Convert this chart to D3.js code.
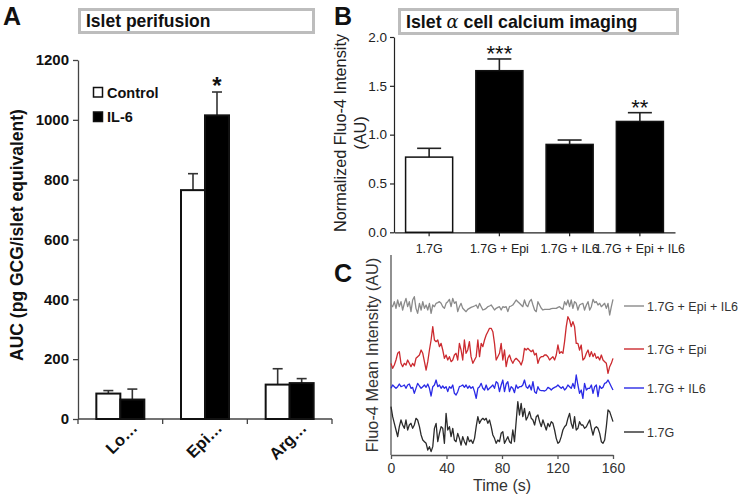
<!DOCTYPE html>
<html><head><meta charset="utf-8">
<script src="https://cdn.jsdelivr.net/npm/d3@7"></script>
<style>body{margin:0;background:#fff;} svg{display:block;font-family:"Liberation Sans",Arial,sans-serif;}</style>
</head><body><svg id="c" width="740" height="496"></svg>
<script>
// ---------- Panel A : islet perifusion ----------
const perifCategories = ["Lo…", "Epi…", "Arg…"];
const perifGroups = ["Control", "IL-6"];
const perifControl = [85, 765, 115];
const perifControlErr = [10, 55, 53];
const perifIL6 = [65, 1015, 120];
const perifIL6Err = [35, 78, 15];
const perifSig = ["", "*", ""];
const perifYTicks = [0, 200, 400, 600, 800, 1000, 1200];

// ---------- Panel B : alpha cell calcium imaging ----------
const caCategories = ["1.7G", "1.7G + Epi", "1.7G + IL6", "1.7G + Epi + IL6"];
const caValues = [0.77, 1.655, 0.90, 1.135];
const caErrors = [0.09, 0.12, 0.045, 0.09];
const caSig = ["", "***", "", "**"];
const caYTicks = [0, 0.5, 1.0, 1.5, 2.0];

// ---------- Panel C : Fluo-4 traces ----------
const traceTime = [
  0, 1.2, 2.4, 3.6, 4.8, 6.0, 7.2, 8.4, 9.6, 10.8,
  12.0, 13.2, 14.4, 15.6, 16.8, 18.0, 19.2, 20.5, 21.7, 22.9,
  24.1, 25.3, 26.5, 27.7, 28.9, 30.1, 31.3, 32.5, 33.7, 34.9,
  36.1, 37.3, 38.5, 39.7, 40.9, 42.1, 43.3, 44.5, 45.7, 46.9,
  48.1, 49.3, 50.5, 51.7, 52.9, 54.1, 55.3, 56.5, 57.7, 59.0,
  60.2, 61.4, 62.6, 63.8, 65.0, 66.2, 67.4, 68.6, 69.8, 71.0,
  72.2, 73.4, 74.6, 75.8, 77.0, 78.2, 79.4, 80.6, 81.8, 83.0,
  84.2, 85.4, 86.6, 87.8, 89.0, 90.2, 91.4, 92.6, 93.8, 95.0,
  96.2, 97.4, 98.6, 99.8, 101.1, 102.3, 103.5, 104.7, 105.9, 107.1,
  108.3, 109.5, 110.7, 111.9, 113.1, 114.3, 115.5, 116.7, 117.9, 119.1,
  120.3, 121.5, 122.7, 123.9, 125.1, 126.3, 127.5, 128.7, 129.9, 131.1,
  132.3, 133.5, 134.7, 135.9, 137.1, 138.3, 139.5, 140.8, 142.0, 143.2,
  144.4, 145.6, 146.8, 148.0, 149.2, 150.4, 151.6, 152.8, 154.0, 155.2,
  156.4, 157.6, 158.8, 160.0
];
const traceEpiIL6 = [
  465, 460, 475, 455, 480, 460, 475, 450, 470, 485,
  460, 475, 445, 480, 490, 455, 440, 470, 450, 475,
  455, 465, 450, 470, 440, 465, 460, 470, 472, 475,
  470, 460, 455, 470, 475, 482, 460, 485, 470, 475,
  445, 460, 470, 455, 450, 445, 452, 455, 458, 460,
  462, 465, 455, 470, 460, 450, 452, 455, 460, 462,
  465, 458, 450, 455, 458, 460, 450, 460, 458, 460,
  445, 460, 462, 465, 472, 480, 475, 470, 465, 460,
  480, 465, 460, 475, 482, 465, 450, 445, 475, 465,
  455, 450, 452, 452, 452, 452, 454, 455, 455, 455,
  458, 460, 455, 452, 475, 465, 480, 460, 480, 455,
  475, 470, 450, 465, 468, 470, 450, 465, 475, 450,
  460, 482, 472, 475, 465, 470, 460, 465, 470, 455,
  470, 435, 460, 482
];
const traceEpi = [
  290, 275, 285, 300, 320, 325, 290, 280, 290, 285,
  300, 290, 280, 290, 282, 305, 310, 315, 330, 320,
  295, 270, 295, 330, 360, 400, 360, 355, 360, 340,
  350, 330, 305, 315, 300, 310, 295, 300, 315, 320,
  300, 350, 330, 300, 360, 320, 330, 355, 310, 290,
  300, 310, 360, 310, 350, 340, 360, 375, 385, 395,
  395, 385, 350, 300, 310, 320, 350, 300, 330, 280,
  305, 315, 300, 290, 300, 305, 300, 295, 285, 300,
  335, 330, 335, 330, 325, 330, 315, 320, 290, 305,
  310, 310, 315, 315, 310, 300, 305, 310, 300, 315,
  345, 320, 325, 320, 355, 400, 430, 420, 400, 415,
  400, 350, 350, 330, 345, 300, 305, 320, 330, 310,
  325, 310, 320, 305, 310, 300, 315, 300, 295, 290,
  260, 280, 290, 305
];
const traceIL6 = [
  215, 225, 220, 215, 220, 228, 220, 222, 225, 215,
  225, 228, 215, 218, 200, 215, 230, 222, 215, 220,
  225, 218, 228, 215, 192, 220, 225, 240, 220, 225,
  215, 222, 215, 220, 205, 220, 215, 225, 200, 195,
  205, 220, 222, 225, 218, 225, 215, 222, 215, 220,
  205, 185, 215, 220, 230, 215, 210, 225, 210, 215,
  220, 225, 215, 235, 230, 205, 225, 240, 205, 228,
  235, 205, 220, 215, 202, 225, 215, 220, 220, 225,
  240, 220, 215, 225, 210, 235, 205, 200, 220, 210,
  208, 208, 207, 210, 218, 215, 210, 215, 218, 220,
  225, 220, 215, 220, 210, 215, 225, 220, 215, 230,
  215, 255, 225, 200, 210, 185, 230, 210, 215, 215,
  225, 200, 220, 225, 190, 222, 215, 218, 230, 232,
  240, 230, 220, 210
];
const trace17G = [
  160, 130, 110, 90, 70, 100, 120, 105, 95, 120,
  90, 105, 110, 95, 105, 125, 120, 100, 75, 60,
  55, 50, 30, 40, 25, 40, 95, 110, 55, 80,
  100, 95, 50, 140, 90, 100, 70, 95, 60, 55,
  80, 65, 45, 70, 55, 45, 70, 55, 60, 50,
  65, 100, 130, 110, 120, 125, 120, 125, 110, 120,
  100, 75, 65, 50, 60, 55, 80, 85, 50, 60,
  70, 55, 50, 90, 55, 115, 175, 135, 170, 130,
  155, 120, 130, 145, 125, 120, 105, 130, 135, 115,
  100, 120, 105, 90, 110, 100, 115, 110, 90, 65,
  50, 55, 70, 90, 100, 105, 125, 140, 110, 95,
  130, 90, 95, 115, 105, 105, 95, 100, 110, 120,
  95, 75, 95, 100, 95, 80, 55, 50, 60, 100,
  150, 145, 130, 115
];
const traceNames = ["1.7G + Epi + IL6", "1.7G + Epi", "1.7G + IL6", "1.7G"];
const traceColors = ["#8a8a8a", "#cc2a2f", "#2a2ae6", "#2b2b2b"];
const traceSeries = [traceEpiIL6, traceEpi, traceIL6, trace17G];
const timeTicks = [0, 40, 80, 120, 160];

// ======================================================
const svg = d3.select("#c");
const FONT = '"Liberation Sans", Arial, sans-serif';

// panel letters
[["A", 3, 25], ["B", 334, 25], ["C", 334, 282]].forEach(([t, x, y]) =>
  svg.append("text").attr("x", x).attr("y", y).attr("font-size", 25)
     .attr("font-weight", "bold").attr("fill", "#111").text(t));

// ----------------- Panel A -----------------
const gA = svg.append("g");
gA.append("rect").attr("x", 79.5).attr("y", 9.5).attr("width", 234).attr("height", 23)
  .attr("fill", "#fff").attr("stroke", "#bdbdbd").attr("stroke-width", 3);
gA.append("text").attr("x", 86).attr("y", 27).attr("font-size", 17.5).attr("font-weight", "bold")
  .attr("fill", "#111").text("Islet perifusion");

const xA = d3.scaleBand().domain(perifCategories).range([78, 332]).padding(0);
const xAsub = d3.scaleBand().domain(perifGroups).range([0, xA.bandwidth()]).paddingInner(0).paddingOuter(0.764);
const yA = d3.scaleLinear().domain([0, 1200]).range([419, 60]);

const yAxisA = gA.append("g").attr("transform", "translate(78,0)")
  .call(d3.axisLeft(yA).tickValues(perifYTicks).tickFormat(d3.format("d")).tickSize(5).tickSizeOuter(0).tickPadding(4));
yAxisA.selectAll("text").attr("font-size", 15).attr("font-weight", "bold").attr("fill", "#111").attr("font-family", FONT);
yAxisA.selectAll("line").attr("stroke", "#444").attr("stroke-width", 1.3);
yAxisA.select(".domain").attr("stroke", "#444").attr("stroke-width", 1.3);

// x axis A
gA.append("line").attr("x1", 78).attr("x2", 332).attr("y1", 419).attr("y2", 419)
  .attr("stroke", "#444").attr("stroke-width", 1.3);
const edgesA = perifCategories.map(c => xA(c)).concat([xA.range()[1]]);
gA.selectAll(".etick").data(edgesA).join("line")
  .attr("x1", d => d).attr("x2", d => d).attr("y1", 419).attr("y2", 424)
  .attr("stroke", "#444").attr("stroke-width", 1.3);
gA.selectAll(".xlabA").data(perifCategories).join("text")
  .attr("transform", d => `translate(${xA(d) + xA.bandwidth() / 2 + 14},${425}) rotate(-45)`)
  .attr("text-anchor", "end").attr("dy", "0.35em")
  .attr("font-size", 16.5).attr("font-weight", "bold").attr("fill", "#111").text(d => d);

const barsA = [];
perifCategories.forEach((c, i) => {
  barsA.push({ c, g: "Control", v: perifControl[i], e: perifControlErr[i], sig: "" });
  barsA.push({ c, g: "IL-6", v: perifIL6[i], e: perifIL6Err[i], sig: perifSig[i] });
});
// error bars (upward)
barsA.forEach(d => {
  const cx = xA(d.c) + xAsub(d.g) + xAsub.bandwidth() / 2;
  gA.append("line").attr("x1", cx).attr("x2", cx).attr("y1", yA(d.v)).attr("y2", yA(d.v + d.e))
    .attr("stroke", "#333").attr("stroke-width", 1.6);
  gA.append("line").attr("x1", cx - 5).attr("x2", cx + 5).attr("y1", yA(d.v + d.e)).attr("y2", yA(d.v + d.e))
    .attr("stroke", "#333").attr("stroke-width", 1.6);
  if (d.sig) gA.append("text").attr("x", cx).attr("y", yA(d.v + d.e) + 2).attr("text-anchor", "middle")
    .attr("font-size", 24).attr("font-weight", "bold").attr("fill", "#111").text(d.sig);
});
gA.selectAll(".barA").data(barsA).join("rect")
  .attr("x", d => xA(d.c) + xAsub(d.g)).attr("width", xAsub.bandwidth())
  .attr("y", d => yA(d.v)).attr("height", d => yA(0) - yA(d.v))
  .attr("fill", d => d.g === "Control" ? "#fff" : "#000")
  .attr("stroke", "#111").attr("stroke-width", 2);

// legend A
perifGroups.forEach((g, i) => {
  const y = 87.5 + i * 24.5;
  gA.append("rect").attr("x", 93.5).attr("y", y).attr("width", 9).attr("height", 9.5)
    .attr("fill", g === "Control" ? "#fff" : "#000").attr("stroke", "#111").attr("stroke-width", 1.5);
  gA.append("text").attr("x", 107).attr("y", y + 10).attr("font-size", 14.5).attr("font-weight", "bold")
    .attr("fill", "#111").text(g);
});

// y label A
gA.append("text").attr("transform", "translate(23,235) rotate(-90)").attr("text-anchor", "middle")
  .attr("font-size", 17.5).attr("font-weight", "bold").attr("fill", "#111")
  .text("AUC (pg GCG/islet equivalent)");

// ----------------- Panel B -----------------
const gB = svg.append("g");
gB.append("rect").attr("x", 399.5).attr("y", 9.5).attr("width", 278).attr("height", 24)
  .attr("fill", "#fff").attr("stroke", "#bdbdbd").attr("stroke-width", 3);
const tB = gB.append("text").attr("x", 406).attr("y", 28).attr("font-size", 17.8).attr("font-weight", "bold").attr("fill", "#111");
tB.append("tspan").text("Islet ");
tB.append("tspan").attr("font-weight", "normal").attr("font-family", "DejaVu Serif, serif").attr("font-style", "italic").text("α");
tB.append("tspan").text(" cell calcium imaging");

const xB = d3.scaleBand().domain(caCategories).range([394, 675]).paddingInner(0.33).paddingOuter(0.165);
const yB = d3.scaleLinear().domain([0, 2]).range([232.3, 37]);

const yAxisB = gB.append("g").attr("transform", "translate(394,0)")
  .call(d3.axisLeft(yB).tickValues(caYTicks).tickFormat(d3.format(".1f")).tickSize(4).tickSizeOuter(0).tickPadding(3));
const xAxisB = gB.append("g").attr("transform", "translate(0,232.3)")
  .call(d3.axisBottom(xB).tickSize(4).tickSizeOuter(0).tickPadding(8));
[yAxisB, xAxisB].forEach(a => {
  a.selectAll("text").attr("font-size", 12.4).attr("fill", "#222").attr("font-family", FONT);
  a.selectAll("line").attr("stroke", "#222").attr("stroke-width", 1.2);
  a.select(".domain").attr("stroke", "#222").attr("stroke-width", 1.2);
});
yAxisB.selectAll("text").attr("font-size", 13.5);

caCategories.forEach((c, i) => {
  const cx = xB(c) + xB.bandwidth() / 2;
  const top = yB(caValues[i] + caErrors[i]);
  gB.append("line").attr("x1", cx).attr("x2", cx).attr("y1", yB(caValues[i])).attr("y2", top)
    .attr("stroke", "#222").attr("stroke-width", 1.6);
  gB.append("line").attr("x1", cx - 12).attr("x2", cx + 12).attr("y1", top).attr("y2", top)
    .attr("stroke", "#222").attr("stroke-width", 1.6);
  if (caSig[i]) gB.append("text").attr("x", cx).attr("y", top + 2).attr("text-anchor", "middle")
    .attr("font-size", 22).attr("fill", "#111").text(caSig[i]);
});
gB.selectAll(".barB").data(caCategories).join("rect")
  .attr("x", d => xB(d)).attr("width", xB.bandwidth())
  .attr("y", (d, i) => yB(caValues[i])).attr("height", (d, i) => yB(0) - yB(caValues[i]))
  .attr("fill", (d, i) => i === 0 ? "#fff" : "#000").attr("stroke", "#111").attr("stroke-width", 1.5);

const ylB = gB.append("text").attr("transform", "translate(345.5,133) rotate(-90)").attr("text-anchor", "middle")
  .attr("font-size", 16.3).attr("fill", "#222");
ylB.append("tspan").attr("x", 0).attr("dy", 0).text("Normalized Fluo-4 Intensity");
ylB.append("tspan").attr("x", 0).attr("dy", 20).text("(AU)");

// ----------------- Panel C -----------------
const gC = svg.append("g");
const xC = d3.scaleLinear().domain([0, 160]).range([391, 613]);
const yC = d3.scaleLinear().domain([0, 600]).range([460, 260]);

gC.append("line").attr("x1", 391).attr("x2", 391).attr("y1", 255).attr("y2", 455)
  .attr("stroke", "#555").attr("stroke-width", 1.3);
const xAxisC = gC.append("g").attr("transform", "translate(0,455)")
  .call(d3.axisBottom(xC).tickValues(timeTicks).tickSize(4).tickSizeOuter(0).tickPadding(4));
xAxisC.selectAll("text").attr("font-size", 14).attr("fill", "#333").attr("font-family", FONT);
xAxisC.selectAll("line").attr("stroke", "#555").attr("stroke-width", 1.3);
xAxisC.select(".domain").attr("stroke", "#555").attr("stroke-width", 1.3);

const lineGen = d3.line().x((d, i) => xC(traceTime[i])).y(d => yC(d));
traceSeries.forEach((s, k) => {
  gC.append("path").attr("d", lineGen(s)).attr("fill", "none")
    .attr("stroke", traceColors[k]).attr("stroke-width", 1.3).attr("stroke-linejoin", "round");
});
const legendY = [306, 349, 388, 432];
traceNames.forEach((n, k) => {
  gC.append("line").attr("x1", 624).attr("x2", 644).attr("y1", legendY[k]).attr("y2", legendY[k])
    .attr("stroke", traceColors[k]).attr("stroke-width", 1.4);
  gC.append("text").attr("x", 647).attr("y", legendY[k] + 4.5).attr("font-size", 12.5).attr("fill", "#333").text(n);
});

gC.append("text").attr("transform", "translate(378,355) rotate(-90)").attr("text-anchor", "middle")
  .attr("font-size", 16.3).attr("fill", "#333").text("Fluo-4 Mean Intensity (AU)");
gC.append("text").attr("x", 502).attr("y", 491).attr("text-anchor", "middle")
  .attr("font-size", 16).attr("fill", "#333").text("Time (s)");
</script></body></html>
